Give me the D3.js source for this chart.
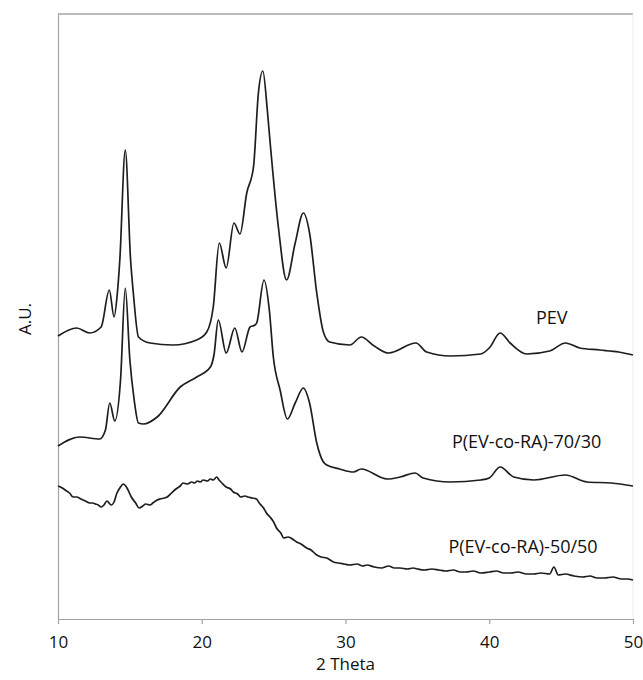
<!DOCTYPE html>
<html>
<head>
<meta charset="utf-8">
<style>
body { margin: 0; background: #fff; }
svg { display: block; font-family: "Open Sans", sans-serif; }
.curve { fill: none; stroke: #1e1e1e; stroke-width: 1.7; stroke-linejoin: round; }
.axis path, .axis line { stroke: #a3a3a3; stroke-width: 1.2; }
.axis text { font-size: 17px; fill: #111; font-family: "Open Sans", sans-serif; }
</style>
</head>
<body>
<div id="chart"></div>
<script src="https://cdn.jsdelivr.net/npm/d3@7/dist/d3.min.js"></script>
<script>
// 2 Theta / intensity (A.U.)
var xTicks = [10, 20, 30, 40, 50];

var pevTheta = [10, 11.3, 12.2, 13.0, 13.57, 13.9, 14.13, 14.3, 14.68, 15.05, 15.24, 15.6, 16.4, 18.0, 19.65, 20.35, 20.8,
    21.22, 21.7, 22.24, 22.66, 23.13, 23.6, 23.94, 24.25, 24.56, 24.76, 25.33, 25.9, 26.5, 27.07, 27.5, 28.0, 28.46,
    28.9, 30.3, 31.1, 32.0, 33.0, 34.9, 35.65, 37.3, 39.4, 40.0, 40.76, 41.45, 42.6, 44.2, 45.3, 46.3, 47.7, 49.0, 50];
var pevInt = [283, 291, 286, 292, 329, 302, 326, 359, 469, 359, 326, 282, 276, 274, 279, 287, 312,
    376, 351, 396, 385, 426, 452, 526, 548, 509, 476, 392, 339, 376, 406, 386, 326, 287,
    277, 274, 282, 273, 266, 276, 267, 263, 265, 271, 286, 276, 265, 268, 276, 271, 269, 267, 264];

var rTheta = [10, 11.5, 12.9, 13.3, 13.6, 13.95, 14.35, 14.68, 15.0, 15.3, 15.6, 15.95, 16.9, 18.5, 19.65, 20.6, 20.85,
    21.15, 21.7, 22.3, 22.8, 23.36, 23.7, 23.82, 24.33, 24.7, 24.98, 25.45, 25.96, 26.5, 27.07, 27.5, 28.0, 28.46,
    28.7, 29.6, 30.55, 31.1, 32.9, 33.8, 34.85, 35.4, 37.3, 39.4, 40.0, 40.76, 41.7, 43.1, 45.3, 46.8, 48.5, 50];
var rInt = [173, 182, 180, 189, 216, 198, 239, 331, 259, 219, 196, 195, 202, 232, 242, 252, 264,
    299, 266, 291, 267, 292, 294, 296, 339, 309, 262, 229, 200, 216, 231, 216, 176, 157,
    154, 150, 147, 150, 140, 142, 146, 141, 137, 139, 141, 152, 142, 139, 144, 137, 136, 133];

var hTheta = [10, 10.3, 10.5, 10.8, 11.05, 11.3, 11.6, 11.9, 12.2, 12.4, 12.6, 12.8, 13.0, 13.2, 13.4, 13.7, 13.9, 14.1,
    14.3, 14.55, 14.8, 15.1, 15.4, 15.65, 15.9, 16.1, 16.4, 16.6, 16.9, 17.1, 17.4, 17.6, 17.9, 18.2, 18.5, 18.7, 19.0,
    19.3, 19.5, 19.7, 19.9, 20.1, 20.4, 20.6, 20.8, 21.04, 21.2, 21.4, 21.7, 22.0, 22.2, 22.5, 22.7, 23.0, 23.2, 23.5,
    23.8, 24.0, 24.3, 24.5, 24.75, 25.0, 25.2, 25.5, 25.7, 26.0, 26.2, 26.4, 26.6, 26.9, 27.3, 27.6, 28.0, 28.3, 28.7,
    29.16, 29.5, 29.9, 30.3, 30.8, 31.2, 31.5, 32.0, 32.5, 33.0, 33.4, 33.8, 34.3, 34.7, 35.0, 35.5, 36.0, 36.5, 37.0,
    37.5, 38.0, 38.4, 38.9, 39.4, 40.0, 40.5, 41.0, 41.5, 42.0, 42.6, 43.1, 43.6, 44.2, 44.5, 44.8, 45.3, 45.9, 46.5,
    47.0, 47.5, 48.0, 48.6, 49.2, 49.6, 50];
var hInt = [133, 131, 129, 126, 122, 122, 120, 118, 116, 116, 115, 114, 112, 114, 118, 114, 117, 126,
    131, 135, 131, 122, 116, 111, 113, 115, 114, 116, 119, 120, 121, 122, 126, 130, 133, 136, 135,
    137, 136, 138, 137, 139, 138, 140, 139, 142, 139, 136, 132, 130, 127, 125, 122, 123, 122, 121,
    120, 116, 111, 106, 102, 97, 91, 86, 81, 82, 81, 79, 77, 75, 71, 69, 64, 62, 61,
    57, 56, 55, 54, 55, 53, 54, 52, 51, 53, 51, 51, 50, 51, 50, 49, 50, 49, 48,
    49, 47, 47, 48, 46, 47, 48, 46, 46, 47, 45, 45, 46, 45, 52, 44, 45, 43, 42,
    43, 41, 41, 42, 40, 40, 39];

var series = [
    {name: 'PEV', theta: pevTheta, value: pevInt, label: [44.35, 300]},
    {name: 'P(EV-co-RA)-70/30', theta: rTheta, value: rInt, label: [42.6, 176]},
    {name: 'P(EV-co-RA)-50/50', theta: hTheta, value: hInt, label: [42.35, 71]}
];

var width = 643, height = 680;
var margin = {top: 14, right: 10, bottom: 61, left: 58};

var svg = d3.select('#chart').append('svg')
    .attr('width', width)
    .attr('height', height);

var x = d3.scaleLinear().domain([10, 50]).range([margin.left, width - margin.right]);
var y = d3.scaleLinear().domain([0, 605]).range([height - margin.bottom, margin.top]);

// frame: grey top, faint right
svg.append('line')
    .attr('x1', x(10)).attr('x2', x(50))
    .attr('y1', y(605)).attr('y2', y(605))
    .attr('stroke', '#a3a3a3')
    .attr('stroke-width', 1.5);
svg.append('line')
    .attr('x1', x(50)).attr('x2', x(50))
    .attr('y1', y(605)).attr('y2', y(0))
    .attr('stroke', '#ececec');

svg.append('g')
    .attr('class', 'axis')
    .attr('transform', 'translate(0,' + y(0) + ')')
    .call(d3.axisBottom(x).tickValues(xTicks).tickSize(5).tickSizeOuter(0).tickPadding(12));

svg.append('g')
    .attr('class', 'axis')
    .attr('transform', 'translate(' + x(10) + ',0)')
    .call(d3.axisLeft(y).tickValues([]).tickSizeOuter(0));

var line = d3.line()
    .x((d) => x(d[0]))
    .y((d) => y(d[1]))
    .curve(d3.curveMonotoneX);

series.forEach(function (s) {
    svg.append('path')
        .datum(d3.zip(s.theta, s.value))
        .attr('class', 'curve')
        .attr('d', line);
    svg.append('text')
        .attr('x', x(s.label[0]))
        .attr('y', y(s.label[1]))
        .attr('text-anchor', 'middle')
        .attr('dominant-baseline', 'middle')
        .style('font-size', '18px')
        .style('fill', '#111')
        .text(s.name);
});

svg.append('text')
    .attr('x', x(30))
    .attr('y', height - 10)
    .attr('text-anchor', 'middle')
    .style('font-size', '17px')
    .style('fill', '#111')
    .text('2 Theta');

svg.append('text')
    .attr('transform', 'translate(26,' + y(300) + ') rotate(-90)')
    .attr('text-anchor', 'middle')
    .attr('dominant-baseline', 'middle')
    .style('font-size', '17px')
    .style('fill', '#111')
    .text('A.U.');
</script>
</body>
</html>
